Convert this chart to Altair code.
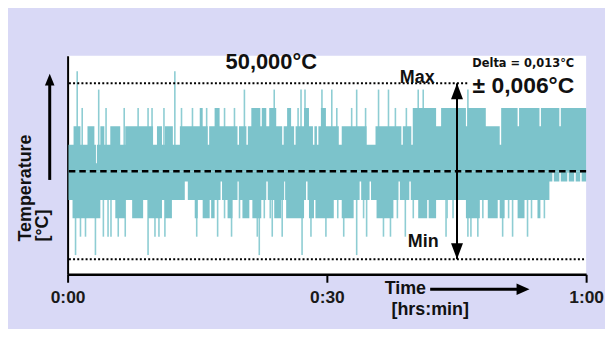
import altair as alt
import pandas as pd

# ---------------- data ----------------
# time in minutes, temperature deviation from the 50.000 °C set point in m°C
UPPER_T = [0.1, 0.69, 1.49, 2.30, 3.10, 3.28, 3.39, 3.79, 4.25, 4.94, 6.09, 6.67, 9.89, 10.34,
           10.92, 11.26, 12.18, 12.99, 15.29, 15.63, 16.21, 16.38, 17.01, 17.59, 19.66, 19.83,
           20.69, 20.86, 21.26, 22.30, 22.47, 22.99, 23.33, 24.14, 24.83, 25.00, 25.40, 25.86,
           26.21, 26.38, 27.36, 27.93, 28.39, 28.56, 28.85, 29.02, 29.31, 29.89, 31.38, 31.72,
           34.60, 35.63, 38.62, 38.79, 39.77, 39.94, 42.64, 43.22, 46.09, 46.26, 48.39, 50.00,
           50.17, 52.07, 52.24, 54.60, 54.77, 56.90, 57.07, 60.00]
UPPER_MC = [1.96, 3.32, 1.96, 3.32, 1.96, 0.60, 1.96, 3.32, 1.96, 3.32, 1.96, 3.32, 1.96, 3.32,
            1.96, 3.32, 1.96, 3.32, 4.68, 3.32, 1.96, 3.32, 4.68, 3.32, 1.96, 3.32,
            1.96, 3.32, 4.68, 3.32, 4.68, 3.32, 4.68, 3.32, 1.96, 3.32, 4.68, 3.32,
            1.96, 3.32, 4.68, 3.32, 1.96, 3.32, 1.96, 3.32, 4.68, 3.32, 1.96, 3.32,
            1.96, 3.32, 1.96, 3.32, 1.96, 4.68, 3.32, 4.68, 3.32, 4.68, 3.32, 1.96,
            4.68, 3.32, 4.68, 3.32, 4.68, 3.32, 4.68, 4.68]

LOWER_T = [0.1, 0.57, 3.79, 5.52, 6.67, 7.47, 8.74, 9.31, 10.92, 11.26, 12.07, 13.56, 13.91,
           14.71, 15.06, 15.63, 16.44, 16.61, 17.01, 17.70, 17.87, 18.51, 19.08, 19.66, 19.83,
           20.23, 21.03, 21.38, 22.41, 22.99, 23.16, 23.91, 24.71, 25.06, 25.17, 25.29, 27.36,
           27.59, 27.76, 27.93, 28.51, 28.68, 30.80, 31.72, 33.10, 33.79, 33.97, 34.94, 35.11,
           35.75, 37.70, 38.28, 38.45, 39.54, 39.71, 40.57, 41.61, 41.78, 42.64, 46.09, 47.70,
           48.62, 49.77, 50.00, 50.57, 52.07, 52.87, 54.37, 54.71, 55.75, 56.09, 56.26, 56.90,
           57.07, 57.82, 57.99, 58.62, 58.79, 59.31, 59.48, 60.00]
LOWER_MC = [-2.12, -3.48, -2.12, -3.48, -2.12, -3.48, -2.12, -3.48, -2.12, -3.48, -2.12, -0.76, -2.12,
            -3.48, -2.12, -3.48, -2.12, -3.48, -2.12, -0.76, -2.12, -3.48, -2.12, -0.76, -2.12,
            -3.48, -2.12, -3.48, -2.12, -0.76, -2.12, -3.48, -2.12, -0.76, -2.12, -3.48, -2.12,
            -0.76, -2.12, -3.48, -2.12, -3.48, -2.12, -3.48, -2.12, -0.76, -2.12, -0.76, -2.12,
            -3.48, -2.12, -0.76, -2.12, -0.76, -2.12, -3.48, -2.12, -3.48, -2.12, -3.48, -2.12,
            -3.48, -2.12, -3.48, -2.12, -3.48, -2.12, -3.48, -2.12, -0.76, -0.10, -0.76, -0.10,
            -0.76, -0.10, -0.76, -0.10, -0.76, -0.10, -0.76, -0.76]

UP_SPIKE_T = [1.11, 1.69, 3.60, 4.45, 6.55, 8.16, 9.31, 9.77, 11.15, 12.41, 13.18, 14.45, 16.09,
              18.16, 19.31, 20.46, 23.91, 26.67, 27.01, 27.47, 29.43, 30.57, 31.15, 32.87, 33.45,
              34.48, 35.98, 37.13, 37.93, 39.20, 40.57, 41.15, 46.32]
UP_SPIKE_MC = [7.40, 4.68, 6.04, 4.68, 4.68, 4.68, 4.68, 4.68, 4.68, 7.40, 4.68, 4.68, 4.68,
               4.68, 4.68, 6.04, 6.04, 4.68, 6.04, 6.04, 6.04, 6.04, 4.68, 4.68, 6.04,
               4.68, 6.04, 6.04, 4.68, 4.68, 6.04, 6.04, 6.04]

DOWN_SPIKE_T = [0.92, 1.49, 2.07, 3.22, 4.14, 4.68, 5.02, 5.86, 6.67, 9.31, 10.11, 10.57, 11.26,
                14.94, 17.36, 18.97, 21.95, 22.18, 23.68, 24.83, 27.13, 28.16, 29.89, 31.95, 33.45,
                34.60, 36.55, 37.36, 39.08, 43.79, 46.32, 46.67, 47.47, 50.34, 51.49, 53.22,
                18.16, 19.89, 22.76, 23.45, 31.26, 34.25, 38.16, 40.00, 43.91, 44.60, 48.05,
                51.03, 53.68, 55.17]
DOWN_SPIKE_MC = [-6.20, -4.84, -4.84, -6.20, -4.84, -4.84, -4.84, -4.84, -4.84, -6.20, -4.84, -4.84, -4.84,
                 -4.84, -4.84, -4.84, -4.84, -6.20, -4.84, -4.84, -6.20, -4.84, -4.84, -4.84, -6.20,
                 -4.84, -4.84, -4.84, -4.84, -4.84, -4.84, -4.84, -4.84, -4.84, -4.84, -4.84,
                 -3.48, -3.48, -3.48, -3.48, -3.48, -3.48, -3.48, -3.48, -3.48, -3.48, -3.48,
                 -3.48, -3.48, -3.48]

TICK_VALUES = [0, 30, 60]
TICK_LABELS = ["0:00", "0:30", "1:00"]
MAX_MC, MIN_MC, SET_MC = 6.5, -6.5, 0.0
LINE_START_T, MAX_LINE_END_T, LINE_END_T = 0.15, 46.4, 60.0
ARROW_T = 45.06

# ---------------- styling ----------------
TEAL = "#7CC3CB"
SPIKE = "#8ECDD3"
BG = "#D9D9F6"
FONT = "Liberation Sans"

x_scale = alt.Scale(domain=[0, 60], nice=False, zero=False)
y_scale = alt.Scale(domain=[-7.62, 8.54], nice=False, zero=False)

label_expr = " : ".join(
    f"datum.value == {v} ? '{l}'" for v, l in zip(TICK_VALUES[:-1], TICK_LABELS[:-1])
) + f" : '{TICK_LABELS[-1]}'"

x_axis = alt.Axis(values=TICK_VALUES, labelExpr=label_expr, title=None, grid=False,
                  domainColor="#000", domainWidth=2.5, tickColor="#000", tickWidth=2,
                  tickSize=8, labelFont=FONT, labelFontSize=17.5, labelFontWeight="bold",
                  labelColor="#1a1a1a", labelPadding=6, labelFlush=False, labelOverlap=False)
y_axis = alt.Axis(labels=False, ticks=False, title=None, grid=False,
                  domainColor="#000", domainWidth=2)


def X(field):
    return alt.X(f"{field}:Q", scale=x_scale, axis=x_axis)


def Y(field):
    return alt.Y(f"{field}:Q", scale=y_scale, axis=y_axis)


up_df = pd.DataFrame({"t": UPPER_T, "mc": UPPER_MC, "base": [SET_MC] * len(UPPER_T)})
lo_df = pd.DataFrame({"t": LOWER_T, "mc": LOWER_MC, "base": [SET_MC] * len(LOWER_T)})
spu_df = pd.DataFrame({"t": UP_SPIKE_T, "mc": UP_SPIKE_MC, "base": [SET_MC] * len(UP_SPIKE_T)})
spd_df = pd.DataFrame({"t": DOWN_SPIKE_T, "mc": DOWN_SPIKE_MC, "base": [SET_MC] * len(DOWN_SPIKE_T)})

spikes_up = alt.Chart(spu_df).mark_rule(color=SPIKE, strokeWidth=1.6).encode(
    x=X("t"), y=Y("mc"), y2="base")
spikes_dn = alt.Chart(spd_df).mark_rule(color=SPIKE, strokeWidth=1.6).encode(
    x=X("t"), y=Y("mc"), y2="base")
area_up = alt.Chart(up_df).mark_area(interpolate="step-after", color=TEAL).encode(
    x=X("t"), y=Y("mc"), y2="base")
area_lo = alt.Chart(lo_df).mark_area(interpolate="step-after", color=TEAL).encode(
    x=X("t"), y=Y("mc"), y2="base")

lines_df = pd.DataFrame({
    "t0": [LINE_START_T, LINE_START_T, LINE_START_T],
    "t1": [MAX_LINE_END_T, LINE_END_T, LINE_END_T],
    "mc": [MAX_MC, MIN_MC, SET_MC],
    "kind": ["max", "min", "set"],
})
dotted = alt.Chart(lines_df).transform_filter("datum.kind != 'set'").mark_rule(
    color="#000", strokeWidth=2, strokeDash=[2, 2.2]).encode(
    x=X("t0"), x2="t1", y=Y("mc"))
dashed = alt.Chart(lines_df).transform_filter("datum.kind == 'set'").mark_rule(
    color="#000", strokeWidth=2.5, strokeDash=[6.5, 4]).encode(
    x=X("t0"), x2="t1", y=Y("mc"))

arrow_df = pd.DataFrame({"t": [ARROW_T], "top": [MAX_MC], "bot": [MIN_MC]})
arrow_line = alt.Chart(arrow_df).mark_rule(color="#000", strokeWidth=2).encode(
    x=X("t"), y=Y("top"), y2="bot")
arrow_head_up = alt.Chart(arrow_df).mark_point(
    shape="M0,-1L-0.75,1L0.75,1Z", filled=True, color="#000", opacity=1, size=256, yOffset=8
).encode(x=X("t"), y=Y("top"))
arrow_head_dn = alt.Chart(arrow_df).mark_point(
    shape="M0,1L-0.75,-1L0.75,-1Z", filled=True, color="#000", opacity=1, size=256, yOffset=-8
).encode(x=X("t"), y=Y("bot"))

one = pd.DataFrame({"a": [0]})


def txt(text, px, py, size, align="center", baseline="middle", weight="bold", angle=0, font=FONT):
    kw = dict(text=text, fontSize=size, align=align, baseline=baseline, fontWeight=weight,
              font=font, color="#111")
    if angle:
        kw["angle"] = angle
    return alt.Chart(one).mark_text(**kw).encode(x=alt.value(px), y=alt.value(py))


texts = [
    txt("50,000°C", 205, 6, 22),
    txt("Delta = 0,013°C", 510, 8, 11.5, align="right", font="DejaVu Sans"),
    txt("± 0,006°C", 510, 30, 23, align="right"),
    txt("Max", 352, 27, 18, baseline="alphabetic"),
    txt("Min", 358, 188, 18),
    txt("Time", 340, 235, 18),
    txt("[hrs:min]", 365, 256, 18),
    txt("Temperature", -42, 187, 18, align="left", angle=270),
    txt("[°C]", -25, 187, 18, align="left", angle=270),
]

# decorative axis arrows (outside the data)
temp_arrow = alt.Chart(one).mark_rule(color="#000", strokeWidth=3).encode(
    x=alt.value(-18), y=alt.value(125), y2=alt.value(28))
temp_head = alt.Chart(one).mark_point(
    shape="M0,-1L-0.8,1L0.8,1Z", filled=True, color="#000", opacity=1, size=144
).encode(x=alt.value(-18), y=alt.value(24))
time_arrow = alt.Chart(one).mark_rule(color="#000", strokeWidth=3).encode(
    x=alt.value(365), x2=alt.value(455), y=alt.value(235))
time_head = alt.Chart(one).mark_point(
    shape="M1,0L-1,-0.9L-1,0.9Z", filled=True, color="#000", opacity=1, size=169
).encode(x=alt.value(458.5), y=alt.value(235))

chart = alt.layer(
    spikes_up, spikes_dn, area_up, area_lo, dotted, dashed,
    arrow_line, arrow_head_up, arrow_head_dn,
    temp_arrow, temp_head, time_arrow, time_head, *texts
).properties(
    width=522, height=220,
    autosize=alt.AutoSizeParams(type="none"),
    padding={"left": 60, "top": 47, "right": 19, "bottom": 54},
).configure(background=BG).configure_view(stroke=None, fill="white")

chart.save("out.html", embed_options={"renderer": "svg", "actions": False})
